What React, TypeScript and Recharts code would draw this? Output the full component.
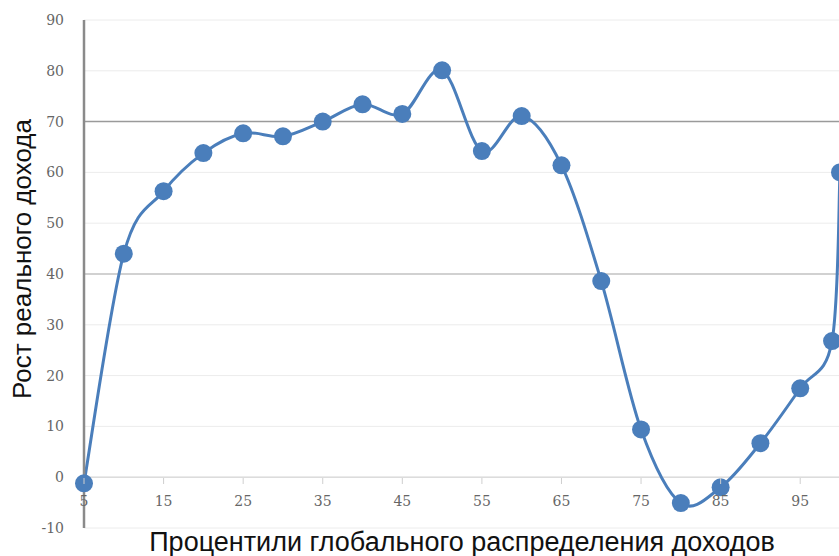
import React from 'react';
import { LineChart, Line, XAxis, YAxis, CartesianGrid, ReferenceLine } from 'recharts';

// percentiles of the global income distribution
const percentiles = [5, 10, 15, 20, 25, 30, 35, 40, 45, 50, 55, 60, 65, 70, 75, 80, 85, 90, 95, 99, 100];
// real income growth, %
const growth = [-1.2, 44, 56.3, 63.8, 67.7, 67.1, 70, 73.4, 71.5, 80.1, 64.2, 71.1, 61.4, 38.6, 9.4, -5.1, -2, 6.7, 17.5, 26.8, 60];

const xTicks = [5, 15, 25, 35, 45, 55, 65, 75, 85, 95];
const yTicks = [-10, 0, 10, 20, 30, 40, 50, 60, 70, 80, 90];

const data = percentiles.map((p, i) => ({ p, growth: growth[i] }));

const BLUE = '#4a7ebb';

// Excel-like smoothing (Catmull-Rom through the points)
const smoothCurve: any = (context: any) => {
  let pts: number[][] = [];
  return {
    areaStart() {},
    areaEnd() {},
    lineStart() { pts = []; },
    lineEnd() {
      if (!pts.length) return;
      context.moveTo(pts[0][0], pts[0][1]);
      for (let i = 0; i < pts.length - 1; i++) {
        const p0 = pts[i - 1] || pts[i];
        const p1 = pts[i];
        const p2 = pts[i + 1];
        const p3 = pts[i + 2] || p2;
        context.bezierCurveTo(
          p1[0] + (p2[0] - p0[0]) / 6, p1[1] + (p2[1] - p0[1]) / 6,
          p2[0] - (p3[0] - p1[0]) / 6, p2[1] - (p3[1] - p1[1]) / 6,
          p2[0], p2[1]
        );
      }
    },
    point(x: number, y: number) { pts.push([+x, +y]); },
  };
};

// x ticks sit on the zero line, not at the bottom of the plot
const ZERO_SHIFT = 50;
const XTick = (props: any) => {
  const { x, y, payload } = props;
  return (
    <g>
      <line x1={x} x2={x} y1={y - ZERO_SHIFT} y2={y - ZERO_SHIFT + 6} stroke="#cfcfcf" />
      <text x={x} y={y - 27} dy="0.35em" textAnchor="middle" fill="#666" fontSize={14} fontFamily="'DejaVu Serif', serif">
        {payload.value}
      </text>
    </g>
  );
};

const labelStyle: React.CSSProperties = {
  position: 'absolute',
  whiteSpace: 'nowrap',
  fontFamily: "'Liberation Sans', Arial, sans-serif",
  fontSize: 27,
  color: '#111',
  lineHeight: 1,
};

export default function App() {
  return (
    <div style={{ position: 'absolute', left: 0, top: 0, width: 839, height: 556, overflow: 'hidden', background: '#fff' }}>
      <LineChart width={860} height={556} data={data} margin={{ top: 20, right: 20, left: 0, bottom: 0 }}>
        <CartesianGrid vertical={false} stroke="#ececec" />
        <ReferenceLine y={0} stroke="#dcdcdc" strokeWidth={1.5} />
        <ReferenceLine y={40} stroke="#c4c4c4" strokeWidth={1.5} />
        <ReferenceLine y={70} stroke="#9a9a9a" strokeWidth={1.5} />
        <XAxis
          dataKey="p"
          type="number"
          domain={[5, 100]}
          ticks={xTicks}
          height={28}
          axisLine={false}
          tickLine={false}
          tickSize={0}
          tickMargin={0}
          tick={<XTick />}
          interval={0}
        />
        <YAxis
          type="number"
          domain={[-10, 90]}
          ticks={yTicks}
          width={84}
          axisLine={{ stroke: '#8a8a8a', strokeWidth: 2.5 }}
          tickLine={false}
          tickSize={0}
          tickMargin={20}
          interval={0}
          tick={{ fill: '#666', fontSize: 14, fontFamily: "'DejaVu Serif', serif" }}
        />
        <Line
          dataKey="growth"
          type={smoothCurve}
          stroke={BLUE}
          strokeWidth={3}
          dot={{ r: 9, fill: BLUE, stroke: 'none' }}
          activeDot={false}
          isAnimationActive={false}
        />
      </LineChart>
      <div style={{ ...labelStyle, fontSize: 26, left: 22, top: 259, transform: 'translate(-50%, -50%) rotate(-90deg)' }}>
        Рост реального дохода
      </div>
      <div style={{ ...labelStyle, left: 462, top: 542, transform: 'translate(-50%, -50%)' }}>
        Процентили глобального распределения доходов
      </div>
    </div>
  );
}
